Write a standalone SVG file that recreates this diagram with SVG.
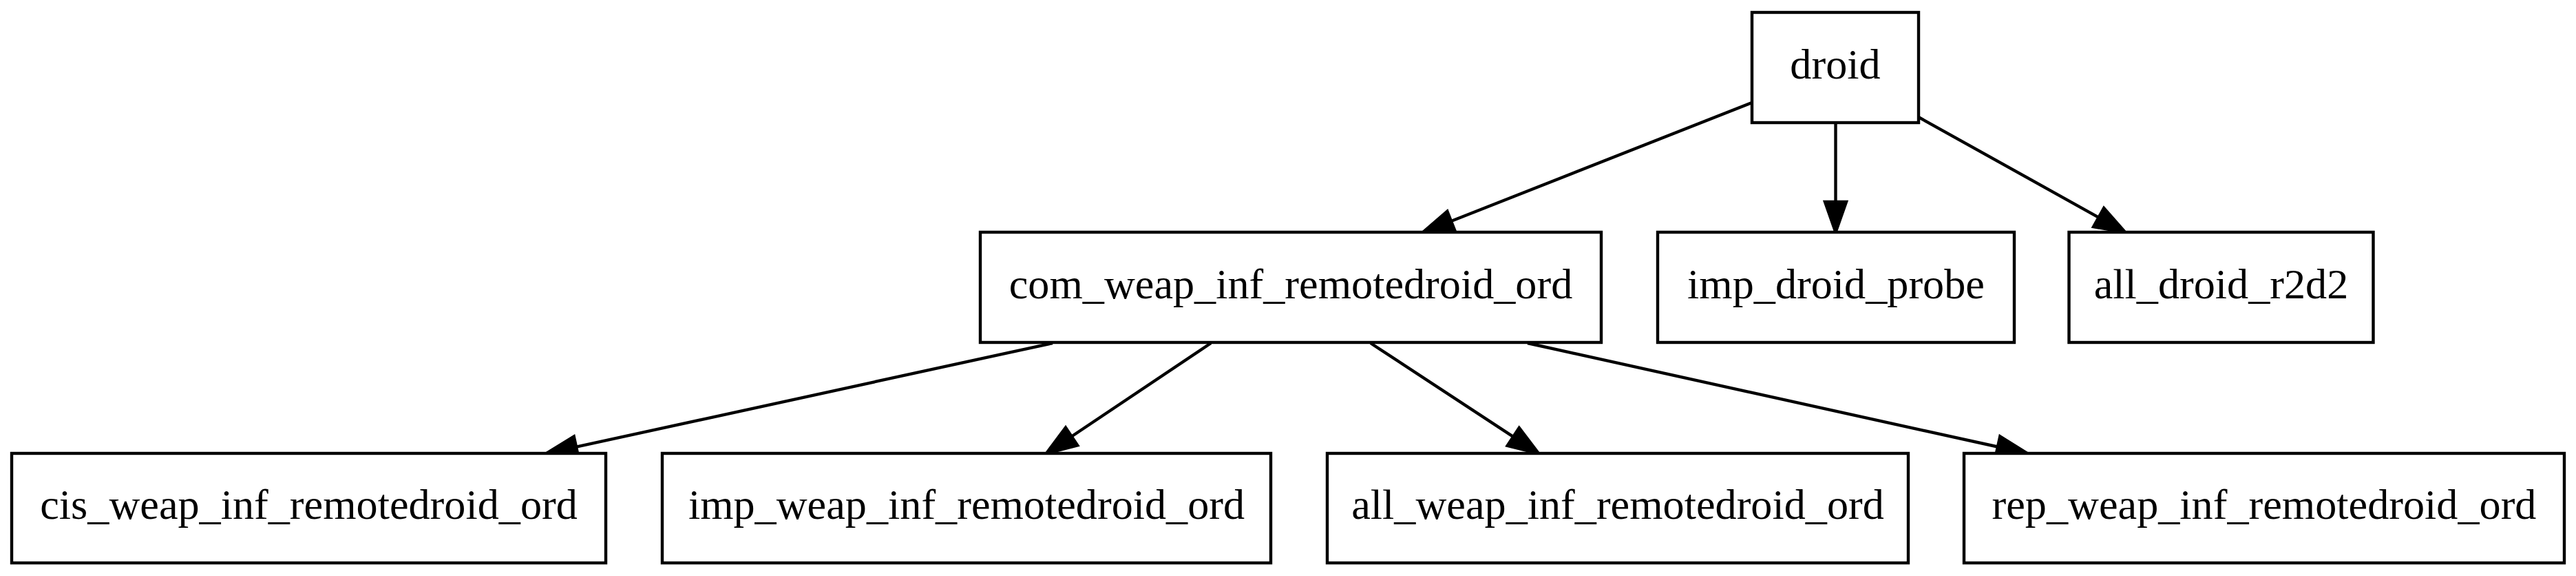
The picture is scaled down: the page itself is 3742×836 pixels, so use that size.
<svg xmlns="http://www.w3.org/2000/svg" width="3742" height="836" viewBox="0 0 3742 836">
<style>
.node rect{fill:#fff;stroke:#000;stroke-width:4.4}
.node text{font-family:"Liberation Serif","Times New Roman",serif;font-size:62.2px;fill:#000;text-anchor:middle}
.edge{fill:none;stroke:#000;stroke-width:4.4}
</style>
<defs>
<marker id="ah" markerUnits="userSpaceOnUse" viewBox="-4 -22 54 44" refX="0" refY="0" markerWidth="54" markerHeight="44" orient="auto">
<path d="M0,-15.5 L44,0 L0,15.5 Z" fill="#000" stroke="#000" stroke-width="4.4"/>
</marker>
</defs>
<rect width="3742" height="836" fill="#fff"/>
<g id="connectors">
<path class="edge" d="M2545,149 L2108,321" marker-end="url(#ah)"/>
<path class="edge" d="M2666.5,178 L2666.5,293" marker-end="url(#ah)"/>
<path class="edge" d="M2787,170 L3048.6,315.6" marker-end="url(#ah)"/>
<path class="edge" d="M1529,498 L837,648.6" marker-end="url(#ah)"/>
<path class="edge" d="M1759,498 L1556.6,633.5" marker-end="url(#ah)"/>
<path class="edge" d="M1991,498 L2198.2,633.9" marker-end="url(#ah)"/>
<path class="edge" d="M2219,498 L2902,648.5" marker-end="url(#ah)"/>
</g>
<g id="droid" class="node"><rect x="2545" y="18" width="242" height="160"/><text x="2666" y="114">droid</text></g>
<g id="com_weap_inf_remotedroid_ord" class="node"><rect x="1424" y="337" width="902" height="160"/><text x="1875" y="433">com_weap_inf_remotedroid_ord</text></g>
<g id="imp_droid_probe" class="node"><rect x="2408" y="337" width="518" height="160"/><text x="2667" y="433">imp_droid_probe</text></g>
<g id="all_droid_r2d2" class="node"><rect x="3005.5" y="337" width="442" height="160"/><text x="3226.5" y="433">all_droid_r2d2</text></g>
<g id="cis_weap_inf_remotedroid_ord" class="node"><rect x="17" y="658" width="863" height="159"/><text x="448.5" y="753">cis_weap_inf_remotedroid_ord</text></g>
<g id="imp_weap_inf_remotedroid_ord" class="node"><rect x="962" y="658" width="884" height="159"/><text x="1404" y="753">imp_weap_inf_remotedroid_ord</text></g>
<g id="all_weap_inf_remotedroid_ord" class="node"><rect x="1928" y="658" width="844" height="159"/><text x="2350" y="753">all_weap_inf_remotedroid_ord</text></g>
<g id="rep_weap_inf_remotedroid_ord" class="node"><rect x="2853" y="658" width="872" height="159"/><text x="3289" y="753">rep_weap_inf_remotedroid_ord</text></g>
</svg>
